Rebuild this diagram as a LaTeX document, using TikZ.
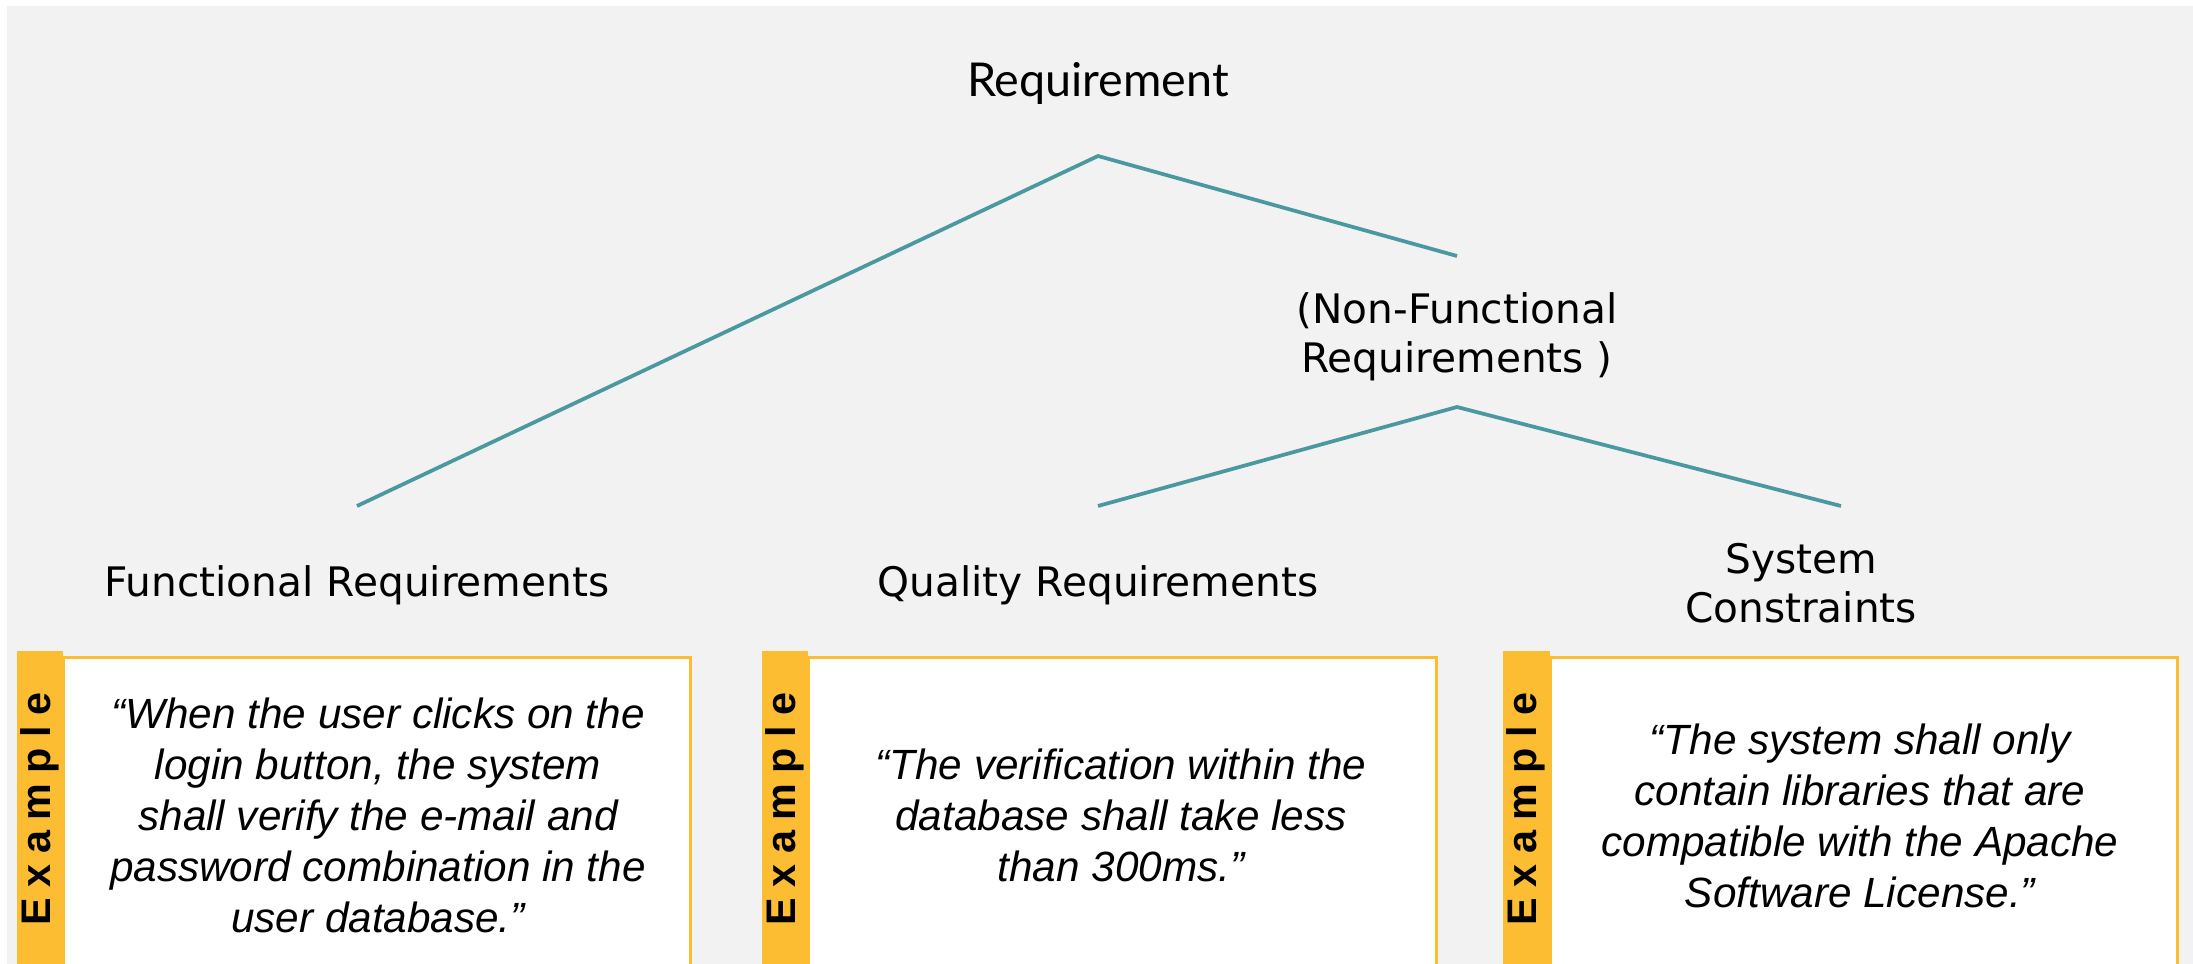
\documentclass[tikz,border=0pt]{standalone}
\usepackage{fontspec}
\newfontfamily\latofont{Lato}
\newfontfamily\dvfont{DejaVu Sans}
\newfontfamily\arialfont{Liberation Sans}
\definecolor{bgcol}{RGB}{242,242,242}
\definecolor{linecol}{RGB}{74,152,160}
\definecolor{ygold}{RGB}{252,189,51}
\newcommand\exword{E\kern0.25em x\kern0.25em a\kern0.25em m\kern0.25em p\kern0.25em l\kern0.25em e}
\tikzset{
  conn/.style={draw=linecol, line width=2.8pt},
  lbl/.style={font=\dvfont\fontsize{30.5}{36.75}\selectfont, align=center, inner sep=0pt},
  quotetext/.style={font=\arialfont\itshape\fontsize{31.7}{38.25}\selectfont, align=center, inner sep=0pt},
  exlabel/.style={font=\arialfont\bfseries\fontsize{31}{34}\selectfont, rotate=90, inner sep=0pt},
  quotebox/.style={draw=ygold, line width=2.25pt, fill=white},
  stripbox/.style={fill=ygold}
}
\begin{document}
\begin{tikzpicture}[x=0.75pt,y=-0.75pt]
\useasboundingbox (0,0) rectangle (2193,964);
\clip (0,0) rectangle (2193,964);
\fill[bgcol] (7,6) rectangle (2193,964);

% title nodes
\node[font=\latofont\fontsize{35}{42}\selectfont, inner sep=0pt, anchor=base] (req) at (1098,96) {Requirement};
\node[lbl] (nfr) at (1457,337) {(Non-Functional\\Requirements )};
\node[lbl, anchor=base] (fr) at (357,596) {Functional Requirements};
\node[lbl, anchor=base] (qr) at (1098,596) {Quality Requirements};
\node[lbl] (sc) at (1801,583) {System\\Constraints};

% connector end points
\coordinate (apexA) at (1098,156);
\coordinate (frEnd) at (357,506);
\coordinate (nfrEnd) at (1457,256);
\coordinate (apexB) at (1457,407);
\coordinate (qrEnd) at (1098,506);
\coordinate (scEnd) at (1841,506);

\draw[conn] (frEnd) -- (apexA) -- (nfrEnd);
\draw[conn] (qrEnd) -- (apexB) -- (scEnd);

% example boxes
\draw[quotebox] (63,657) rectangle (690,1000);
\fill[stripbox] (17,651) rectangle (63,1000);
\draw[quotebox] (808,657) rectangle (1436,1000);
\fill[stripbox] (762,651) rectangle (808,1000);
\draw[quotebox] (1550,657) rectangle (2177,1000);
\fill[stripbox] (1503,651) rectangle (1550,1000);

\node[exlabel] (ex1) at (40,809) {\exword};
\node[exlabel] (ex2) at (785,809) {\exword};
\node[exlabel] (ex3) at (1526,809) {\exword};

\node[quotetext] (q1) at (378,815) {“When the user clicks on the\\login button, the system\\shall verify the e-mail and\\password combination in the\\user database.”};
\node[quotetext] (q2) at (1121,815) {“The verification within the\\database shall take less\\than 300ms.”};
\node[quotetext] (q3) at (1860,816) {“The system shall only\\contain libraries that are\\compatible with the Apache\\Software License.”};
\end{tikzpicture}
\end{document}
